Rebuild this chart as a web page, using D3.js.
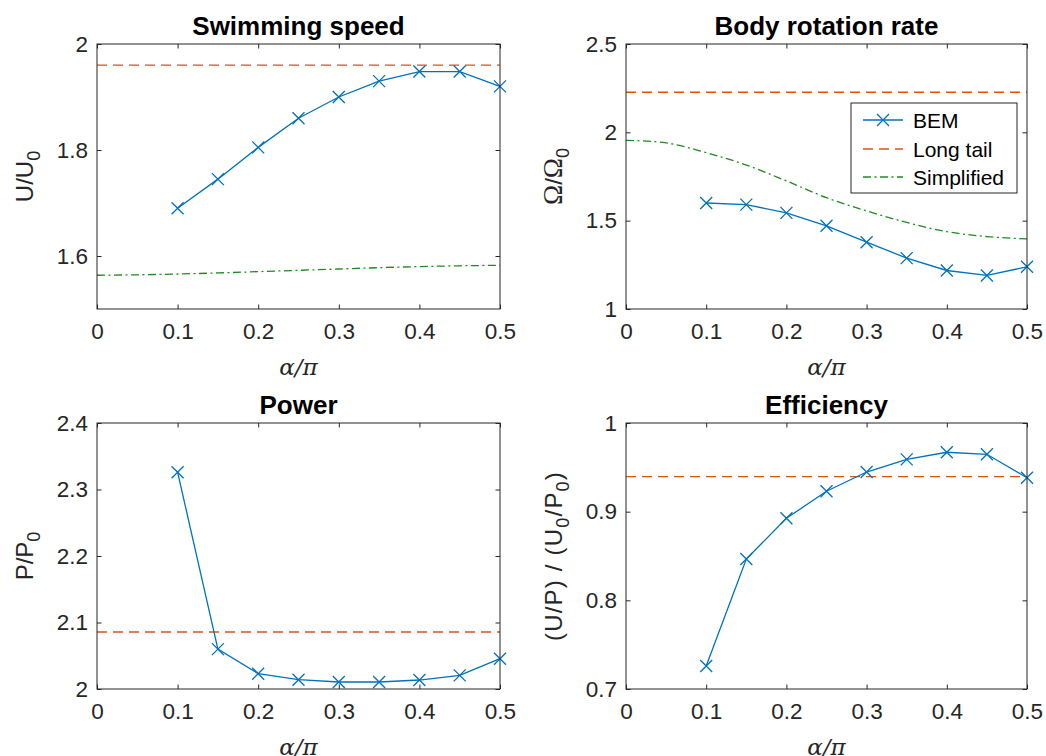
<!DOCTYPE html>
<html><head><meta charset="utf-8">
<script src="https://cdn.jsdelivr.net/npm/d3@7"></script>
<style>
body{margin:0;background:#fff;}
svg{display:block;}
text{font-family:"Liberation Sans",Arial,sans-serif;fill:#262626;}
</style></head>
<body>
<svg id="chart" width="1046" height="756"></svg>
<script>
// ---------- data ----------
const alphaBEM = [0.1, 0.15, 0.2, 0.25, 0.3, 0.35, 0.4, 0.45, 0.5];
const alphaSimpl = [0, 0.05, 0.1, 0.15, 0.2, 0.25, 0.3, 0.35, 0.4, 0.45, 0.5];
const xTicks = [0, 0.1, 0.2, 0.3, 0.4, 0.5];

const speedBEM = [1.690, 1.745, 1.805, 1.860, 1.900, 1.930, 1.948, 1.948, 1.920];
const speedLongTail = 1.96;
const speedSimpl = [1.5637, 1.5645, 1.566, 1.568, 1.5705, 1.573, 1.5755, 1.578, 1.580, 1.5815, 1.5825];
const speedTicks = [1.6, 1.8, 2];

const rotBEM = [1.600, 1.591, 1.544, 1.471, 1.378, 1.288, 1.218, 1.190, 1.239];
const rotLongTail = 2.227;
const rotSimpl = [1.955, 1.940, 1.885, 1.815, 1.725, 1.630, 1.555, 1.490, 1.438, 1.410, 1.397];
const rotTicks = [1, 1.5, 2, 2.5];

const powerBEM = [2.326, 2.060, 2.023, 2.014, 2.0105, 2.0105, 2.0135, 2.0205, 2.0456];
const powerLongTail = 2.0857;
const powerTicks = [2, 2.1, 2.2, 2.3, 2.4];

const effBEM = [0.726, 0.8466, 0.8925, 0.923, 0.9447, 0.959, 0.967, 0.9647, 0.9383];
const effLongTail = 0.9395;
const effTicks = [0.7, 0.8, 0.9, 1];

const legendLabels = ["BEM", "Long tail", "Simplified"];

// ---------- styles ----------
const C_BEM = "#0072BD", C_LT = "#D95319", C_SIM = "#1F8A1F", AX = "#262626";
const DASH = "10,6", DASHDOT = "8,3.5,2,3.5";
const TICKFS = "22.5px";

const svg = d3.select("#chart");

const panels = [
  {title:"Swimming speed", box:[97,44,500,309], yDom:[1.5,2], yTicks:speedTicks, bem:speedBEM, lt:speedLongTail, sim:speedSimpl,
   ylab:[{t:"U/U"},{t:"0",sub:true}], ls:0, legend:false},
  {title:"Body rotation rate", box:[626,44,1027,309], yDom:[1,2.5], yTicks:rotTicks, bem:rotBEM, lt:rotLongTail, sim:rotSimpl,
   ylab:[{t:"Ω",serif:true},{t:"/"},{t:"Ω",serif:true},{t:"0",sub:true}], ls:0, legend:true},
  {title:"Power", box:[97,423,500,689], yDom:[2,2.4], yTicks:powerTicks, bem:powerBEM, lt:powerLongTail, sim:null,
   ylab:[{t:"P/P"},{t:"0",sub:true}], ls:0, legend:false},
  {title:"Efficiency", box:[626,423,1027,689], yDom:[0.7,1], yTicks:effTicks, bem:effBEM, lt:effLongTail, sim:null,
   ylab:[{t:"(U/P) / (U"},{t:"0",sub:true},{t:"/P",back:true},{t:"0",sub:true},{t:")",back:true}], ls:1.2, legend:false}
];

const s = 6;
const cross = (cx,cy)=>`M${cx-s},${cy-s}L${cx+s},${cy+s}M${cx-s},${cy+s}L${cx+s},${cy-s}`;

panels.forEach(p => {
  const [x0,y0,x1,y1] = p.box;
  const x = d3.scaleLinear().domain([0,0.5]).range([x0,x1]);
  const y = d3.scaleLinear().domain(p.yDom).range([y1,y0]);
  const g = svg.append("g");

  const cid = "clip" + Math.round(x0) + "_" + Math.round(y0);
  svg.append("clipPath").attr("id", cid).append("rect")
    .attr("x", x0).attr("y", y0).attr("width", x1-x0).attr("height", y1-y0);
  const plot = g.append("g").attr("clip-path", `url(#${cid})`);

  // long tail
  plot.append("line")
    .attr("x1", x(0)).attr("x2", x(0.5)).attr("y1", y(p.lt)).attr("y2", y(p.lt))
    .attr("stroke", C_LT).attr("stroke-width", 1.3).attr("stroke-dasharray", DASH);

  // simplified
  if (p.sim) {
    const line = d3.line().x((d,i)=>x(alphaSimpl[i])).y(d=>y(d)).curve(d3.curveMonotoneX);
    plot.append("path").attr("d", line(p.sim)).attr("fill","none")
      .attr("stroke", C_SIM).attr("stroke-width", 1.3).attr("stroke-dasharray", DASHDOT);
  }

  // BEM
  const lineB = d3.line().x((d,i)=>x(alphaBEM[i])).y(d=>y(d));
  g.append("path").attr("d", lineB(p.bem)).attr("fill","none")
    .attr("stroke", C_BEM).attr("stroke-width", 1.3);
  g.selectAll(null).data(p.bem).enter().append("path")
    .attr("d", (d,i)=>cross(x(alphaBEM[i]), y(d)))
    .attr("stroke", C_BEM).attr("stroke-width", 1.3).attr("fill","none");

  // axes box
  g.append("rect").attr("x",x0).attr("y",y0).attr("width",x1-x0).attr("height",y1-y0)
    .attr("fill","none").attr("stroke",AX).attr("stroke-width",1);

  const tl = 4.5;
  const xg = g.append("g").attr("transform",`translate(0,${y1})`)
    .call(d3.axisBottom(x).tickValues(xTicks).tickSize(-tl).tickPadding(14).tickFormat(d3.format("~g")));
  const xt = g.append("g").attr("transform",`translate(0,${y0})`)
    .call(d3.axisTop(x).tickValues(xTicks).tickSize(-tl).tickFormat(""));
  const yg = g.append("g").attr("transform",`translate(${x0},0)`)
    .call(d3.axisLeft(y).tickValues(p.yTicks).tickSize(-tl).tickPadding(9).tickFormat(d3.format("~g")));
  const yr = g.append("g").attr("transform",`translate(${x1},0)`)
    .call(d3.axisRight(y).tickValues(p.yTicks).tickSize(-tl).tickFormat(""));
  [xg,xt,yg,yr].forEach(a=>{
    a.select(".domain").remove();
    a.selectAll(".tick line").attr("stroke",AX).attr("stroke-width",1);
    a.selectAll(".tick text").attr("fill",AX).style("font-family","'Liberation Sans',Arial,sans-serif").style("font-size",TICKFS);
  });

  // title
  g.append("text").attr("x",(x0+x1)/2).attr("y",y0-9.5).attr("text-anchor","middle")
    .style("font-size","26px").style("font-weight","bold").style("fill","#000").text(p.title);

  // x label
  g.append("text").attr("x",(x0+x1)/2).attr("y",y1+66).attr("text-anchor","middle")
    .style("font-family","'DejaVu Serif','Liberation Serif',serif").style("font-style","italic")
    .style("font-size","23px").text("α/π");

  // y label
  const yl = g.append("text").attr("transform",`translate(${x0-64},${(y0+y1)/2}) rotate(-90)`)
    .attr("text-anchor","middle").style("font-size","24px").style("letter-spacing", p.ls+"px");
  p.ylab.forEach(part=>{
    const t = yl.append("tspan").text(part.t);
    if (part.serif) t.style("font-family","'Liberation Serif',serif").style("font-size","27px");
    if (part.sub) t.attr("dy",7).style("font-size","18px");
    if (part.back) t.attr("dy",-7);
  });

  // legend
  if (p.legend) {
    const lg = g.append("g");
    lg.append("rect").attr("x",851).attr("y",103).attr("width",166).attr("height",90)
      .attr("fill","#fff").attr("stroke",AX).attr("stroke-width",1);
    const rows = [120,149,177];
    const styles = [{c:C_BEM,dash:null,m:true},{c:C_LT,dash:DASH},{c:C_SIM,dash:DASHDOT}];
    legendLabels.forEach((lab,i)=>{
      const ry = rows[i];
      const ln = lg.append("line").attr("x1",863).attr("x2",903).attr("y1",ry).attr("y2",ry)
        .attr("stroke",styles[i].c).attr("stroke-width",1.3);
      if (styles[i].dash) ln.attr("stroke-dasharray",styles[i].dash);
      if (styles[i].m) {
        lg.append("path").attr("d",cross(883,ry)).attr("stroke",styles[i].c).attr("stroke-width",1.3);
      }
      lg.append("text").attr("x",913).attr("y",ry+7.5).style("font-size","21px").style("fill","#000").text(lab);
    });
  }
});
</script>
</body></html>
